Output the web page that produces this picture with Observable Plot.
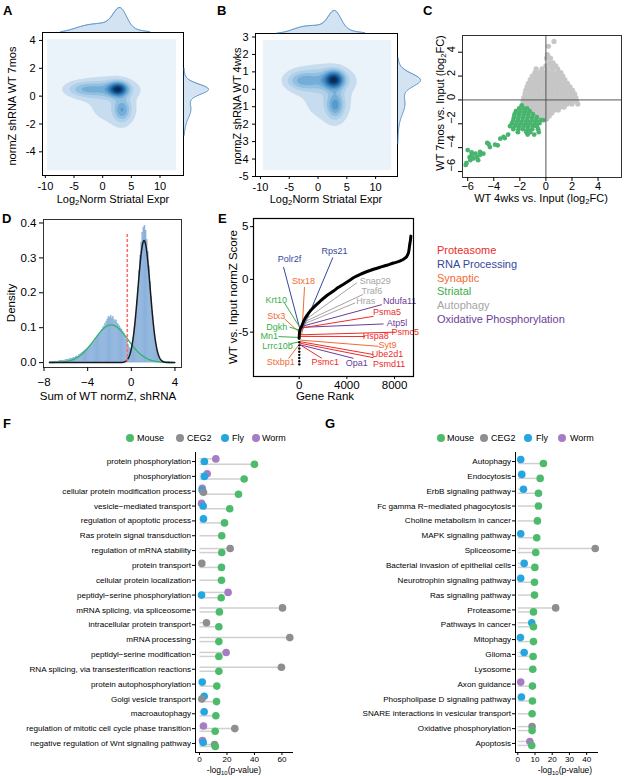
<!DOCTYPE html>
<html>
<head>
<meta charset="utf-8">
<script src="https://cdn.jsdelivr.net/npm/d3@7"></script>
<script src="https://cdn.jsdelivr.net/npm/@observablehq/plot@0.6"></script>
<style>
html,body{margin:0;padding:0;background:#fff;}
#fig{position:relative;width:625px;height:776px;overflow:hidden;font-family:"Liberation Sans",Arial,Helvetica,sans-serif;color:#000;}
#fig svg{overflow:visible;}
.t{position:absolute;white-space:nowrap;line-height:1;}
.t sub{font-size:0.7em;vertical-align:-0.3em;line-height:0;}
</style>
</head>
<body>
<div id="fig"></div>
<script>
// ================= DATA =================
// Panel A – KDE mixture components estimated from the contour picture
const kdeA_cx = [2.7, 0.5, 3.4, 1.5, -3.5];
const kdeA_cy = [0.5, 0.5, -1.0, -0.5, 0.5];
const kdeA_sx = [1.1, 3.0, 1.0, 3.5, 2.0];
const kdeA_sy = [0.33, 0.42, 0.55, 1.3, 0.35];
const kdeA_w  = [0.22, 0.25, 0.16, 0.33, 0.12];
const kdeA_grid = [-9.6, 12.9, -5.36, 4.05];
const kdeA_margX = [-7.3, 8.2];
const kdeA_margY = [-2.8, 2.0];
// Panel B
const kdeB_cx = [2.8, 0.6, 3.0, 1.5, -3.0];
const kdeB_cy = [0.55, 0.55, -0.9, -0.4, 0.5];
const kdeB_sx = [1.1, 3.0, 1.0, 3.5, 1.7];
const kdeB_sy = [0.33, 0.42, 0.5, 1.2, 0.35];
const kdeB_w  = [0.22, 0.25, 0.16, 0.33, 0.11];
const kdeB_grid = [-9.5, 12.8, -4.65, 2.8];
const kdeB_margX = [-7.1, 8.1];
const kdeB_margY = [-3.1, 1.8];

// Panel C – scatter (x: WT 4wks log2FC, y: WT 7mos log2FC)
const cGrayRows = [
  [4.9,[0.62]],[4.5,[0.2]],[3.8,[0.12]],[3.5,[0.05,0.35]],[3.1,[0.28,0.55]],
  [2.85,[0.0,0.4,0.75]],
  [2.6,[-0.75,-0.3,0.1,0.5,0.9]],
  [2.3,[-0.85,-0.5,-0.15,0.2,0.55,0.9,1.15]],
  [2.0,[-1.05,-0.7,-0.35,0.0,0.35,0.7,1.05,1.3]],
  [1.7,[-1.2,-0.85,-0.5,-0.15,0.2,0.55,0.9,1.2,1.45]],
  [1.4,[-1.35,-1.0,-0.65,-0.3,0.05,0.4,0.75,1.1,1.4,1.65]],
  [1.1,[-1.45,-1.1,-0.75,-0.4,-0.05,0.3,0.65,1.0,1.35,1.65,1.85]],
  [0.8,[-1.55,-1.2,-0.85,-0.5,-0.15,0.2,0.55,0.9,1.25,1.6,1.9,2.05]],
  [0.5,[-1.6,-1.25,-0.9,-0.55,-0.2,0.15,0.5,0.85,1.2,1.55,1.9,2.2]],
  [0.2,[-1.7,-1.35,-1.0,-0.65,-0.3,0.05,0.4,0.75,1.1,1.45,1.8,2.1,2.3]],
  [-0.1,[-1.75,-1.4,-1.05,-0.7,-0.35,0.0,0.35,0.7,1.05,1.4,1.75,2.05,2.35]],
  [-0.35,[-1.5,-1.15,-0.8,-0.45,-0.1,0.25,0.6,0.95,1.3,1.65,2.0,2.45]],
  [-0.6,[-1.35,-1.0,-0.65,-0.3,0.05,0.4,0.75,1.1,1.4]],
  [-0.85,[-1.1,-0.75,-0.4,-0.05,0.3,0.65,0.95]],
  [-1.1,[-0.9,-0.55,-0.2,0.15,0.45]],
  [-1.35,[-0.6,-0.3,0.0,0.25]],
  [-1.6,[-0.3,0.05]]
];
const cGreenRows = [
  [-0.45,[-1.85]],
  [-0.7,[-2.05,-1.7,-1.45]],
  [-0.95,[-2.3,-1.95,-1.6,-1.25]],
  [-1.2,[-2.4,-2.05,-1.7,-1.35,-1.0]],
  [-1.45,[-2.45,-2.1,-1.75,-1.4,-1.05,-0.7]],
  [-1.7,[-2.5,-2.15,-1.8,-1.45,-1.1,-0.75,-0.4,-0.2]],
  [-1.95,[-2.6,-2.25,-1.9,-1.55,-1.2,-0.85,-0.5]],
  [-2.2,[-2.75,-2.4,-2.05,-1.7,-1.35,-1.0,-0.7]],
  [-2.45,[-2.5,-2.1,-1.75,-1.4,-1.05,-0.6]],
  [-2.7,[-2.15,-1.5,-1.2,-0.55]],
  [-2.9,[-1.4,-0.9]]
];
const cGreenTail = [
  [-2.9,-2.9],[-3.25,-3.1],[-3.5,-3.25],[-3.15,-3.2],[-3.7,-3.8],[-3.9,-3.75],
  [-4.3,-3.95],[-4.5,-3.6],[-4.4,-3.7],[-4.8,-4.5],[-5.05,-4.35],[-5.7,-4.65],
  [-6.0,-4.2],[-5.3,-4.8],[-6.1,-5.3],[-5.8,-5.05],[-5.55,-4.9],[-5.2,-5.05],
  [-5.7,-4.4],[-5.4,-4.5],[-5.05,-4.6],[-5.85,-4.8],[-6.15,-5.45]
];
const cTicks = [-6, -4, -2, 0, 2, 4];

// Panel D – histogram densities, bins of 0.1 starting at -7.5
const dBinStart = -7.5, dBinWidth = 0.1;
const dHist = [
  0.001,0.001,0.002,0.001,0.002,0.002,0.003,0.002,0.003,0.004,
  0.004,0.005,0.004,0.006,0.006,0.007,0.008,0.007,0.009,0.010,
  0.011,0.012,0.014,0.013,0.016,0.018,0.017,0.021,0.023,0.025,
  0.028,0.030,0.033,0.036,0.038,0.042,0.045,0.047,0.051,0.054,
  0.058,0.061,0.066,0.070,0.074,0.079,0.083,0.089,0.093,0.099,
  0.104,0.110,0.116,0.124,0.131,0.128,0.133,0.126,0.130,0.122,
  0.118,0.121,0.112,0.108,0.104,0.098,0.094,0.087,0.082,0.074,
  0.066,0.058,0.050,0.043,0.038,0.041,0.052,0.070,0.098,0.135,
  0.178,0.215,0.262,0.305,0.343,0.372,0.386,0.392,0.378,0.352,
  0.318,0.276,0.232,0.188,0.148,0.112,0.082,0.058,0.040,0.027,
  0.018,0.012,0.008,0.005,0.004,0.003,0.002,0.002,0.001,0.001,
  0.001,0.000,0.001,0.000,0.000
];
// fitted normal components: [mean, sd, peak density]
const dGreenFit = [-1.85, 1.55, 0.108];
const dBlackFit = [1.17, 0.56, 0.35];
const dCutoff = [-0.37];
const dCutoffTop = 0.37;
const dCurveRange = [-7.5, 4.0];

// Panel E – ranked normZ scores
const eRank  = [0, 30, 100, 224, 364, 600, 923, 1300, 1762, 2300, 2881, 3300, 3720, 4280, 4700, 5119, 5700, 6237, 6800, 7357, 7900, 8476, 8800, 9035, 9200, 9259, 9330, 9371];
const eScore = [-5.6, -5.0, -4.7, -4.4, -4.0, -3.5, -3.0, -2.55, -2.07, -1.55, -1.1, -0.75, -0.45, -0.05, 0.25, 0.48, 0.75, 0.96, 1.15, 1.34, 1.55, 1.75, 1.95, 2.2, 2.7, 3.2, 3.7, 4.1];
const eTailScore = [-5.95, -6.25, -6.55, -6.85, -7.15, -7.45, -7.75, -8.05];
const eGenes = ["Polr2f","Rps21","Stx18","Krt10","Stx3","Dgkh","Mn1","Lrrc10b","Stxbp1","Psmc1","Opa1","Psmd11","Ube2d1","Syt9","Hspa8","Psmc5","Atp5l","Psma5","Ndufa11","Hras","Traf6","Snap29"];
const eGeneClass = ["RNA Processing","RNA Processing","Synaptic","Striatal","Synaptic","Striatal","Striatal","Striatal","Synaptic","Proteasome","Oxidative Phosphorylation","Proteasome","Proteasome","Synaptic","Proteasome","Proteasome","Oxidative Phosphorylation","Proteasome","Oxidative Phosphorylation","Autophagy","Autophagy","Autophagy"];
const eLabelRank  = [-811, 2965, 364, -1930, -1930, -1874, -2518, -1818, -1538, 2182, 4839, 7552, 7413, 7413, 6433, 8895, 8196, 7357, 8420, 5594, 6098, 6377];
const eLabelScore = [1.9, 2.64, -0.16, -1.97, -3.5, -4.52, -5.42, -6.32, -7.87, -7.87, -7.96, -7.99, -7.12, -6.24, -5.34, -5.0, -4.12, -3.12, -2.07, -2.07, -1.11, -0.16];
const eLeadRank   = [-1315, 2825, 448, -1231, -1231, -811, -1734, -755, -895, 1902, 4559, 6237, 6237, 6657, 5538, 8056, 7077, 6237, 6937, 4699, 5343, 4839];
const eLeadScore  = [1.18, 2.07, -0.73, -2.23, -3.73, -4.52, -5.42, -6.1, -7.5, -7.48, -7.48, -7.42, -7.12, -6.34, -5.41, -5.0, -4.22, -3.5, -2.39, -2.23, -1.43, -0.32];
const eGeneRank   = [84, 224, 224, 84, 84, 28, 28, 84, 84, 84, 84, 84, 84, 84, 84, 84, 84, 224, 224, 224, 300, 364];
const eGeneScore  = [-4.8, -4.94, -5.25, -4.6, -5.1, -4.8, -5.5, -5.9, -6.05, -6.2, -6.2, -6.05, -5.9, -5.75, -5.4, -5.25, -4.55, -4.6, -4.45, -4.3, -4.1, -3.95];
const eClasses = ["Proteasome","RNA Processing","Synaptic","Striatal","Autophagy","Oxidative Phosphorylation"];
const eClassColors = ["#ee2b2b","#34489c","#f26b32","#3cae4a","#a5a5a5","#6a3d98"];

// Panels F & G – enrichment -log10(p)
const species = ["Mouse","CEG2","Fly","Worm"];
const speciesColors = ["#4dbb6c","#8e8e92","#26a6e1","#a67dc4"];
const dodgeOrder = ["Worm","Fly","CEG2","Mouse"];
const fTerms = ["protein phosphorylation","phosphorylation","cellular protein modification process","vesicle\u2212mediated transport","regulation of apoptotic process","Ras protein signal transduction","regulation of mRNA stability","protein transport","cellular protein localization","peptidyl\u2212serine phosphorylation","mRNA splicing, via spliceosome","intracellular protein transport","mRNA processing","peptidyl\u2212serine modification","RNA splicing, via transesterification reactions","protein autophosphorylation","Golgi vesicle transport","macroautophagy","regulation of mitotic cell cycle phase transition","negative regulation of Wnt signaling pathway"];
const fMouse = [40, 32.5, 28.4, 22, 18.2, 16.2, 16.2, 16, 16, 15.8, 14.5, 14.1, 14.1, 14.1, 14.1, 12.6, 12.4, 11.9, 11.4, 11.5];
const fCEG2  = [null, null, 2.9, null, null, null, 22.3, 1.7, null, null, 60.4, 5.1, 65.7, null, 59.6, null, 1.7, null, 25.7, 11];
const fFly   = [3.6, 3.6, 2, 2.7, 2.9, null, null, null, null, 1.5, null, null, null, null, null, 2, 3.4, 3.4, null, 2.7];
const fWorm  = [11.9, 5.6, 2, 1.5, null, null, null, null, null, 20.8, null, null, null, 19.4, null, null, null, null, 2.9, 2.2];
const fTicks = [0, 20, 40, 60];
const gTerms = ["Autophagy","Endocytosis","ErbB signaling pathway","Fc gamma R\u2212mediated phagocytosis","Choline metabolism in cancer","MAPK signaling pathway","Spliceosome","Bacterial invasion of epithelial cells","Neurotrophin signaling pathway","Ras signaling pathway","Proteasome","Pathways in cancer","Mitophagy","Glioma","Lysosome","Axon guidance","Phospholipase D signaling pathway","SNARE interactions in vesicular transport","Oxidative phosphorylation","Apoptosis"];
const gMouse = [14.9, 13, 12, 12, 11.4, 11, 10.4, 9.9, 9.7, 9.7, 9.1, 9.1, 9.1, 8.9, 8.7, 8.5, 8.5, 8.3, 8.3, 8.1];
const gCEG2  = [null, null, null, null, null, null, 45, null, null, null, 22, null, null, null, null, null, null, null, 8.3, null];
const gFly   = [1.7, 2.3, 3.3, null, null, 1.7, null, 3.7, 1.7, null, null, 8.1, 1.5, 3.7, null, null, 2.1, null, null, null];
const gWorm  = [null, null, null, null, null, null, null, null, null, null, null, null, null, null, null, 1.7, null, null, null, 7.0];
const gTicks = [0, 10, 20, 30, 40];

// ================= HELPERS =================
const FAM = '"Liberation Sans", Arial, Helvetica, sans-serif';
const fig = document.getElementById("fig");
function put(node, left, top) {
  node.style.position = "absolute"; node.style.left = left + "px"; node.style.top = top + "px";
  fig.appendChild(node); return node;
}
function txt(html, x, y, o = {}) {
  const d = document.createElement("div");
  d.className = "t"; d.innerHTML = html;
  d.style.left = x + "px"; d.style.top = y + "px";
  d.style.fontSize = (o.size || 11) + "px";
  if (o.color) d.style.color = o.color;
  if (o.bold) d.style.fontWeight = "bold";
  const ax = o.anchor === "start" ? "0" : o.anchor === "end" ? "-100%" : "-50%";
  d.style.transform = `translate(${ax},-50%)` + (o.rotate ? ` rotate(${o.rotate}deg)` : "");
  fig.appendChild(d); return d;
}
const hy = d => (d < 0 ? "-" + (-d) : String(d));
const baseStyle = size => ({background: "none", fontFamily: FAM, fontSize: size + "px", color: "#000", overflow: "visible"});

function mixture(cx, cy, sx, sy, w) {
  const f2 = (x, y) => {
    let s = 0;
    for (let i = 0; i < w.length; i++) {
      const a = (x - cx[i]) / sx[i], b = (y - cy[i]) / sy[i];
      s += w[i] * Math.exp(-0.5 * (a * a + b * b)) / (2 * Math.PI * sx[i] * sy[i]);
    }
    return s;
  };
  const m = (v, c, s) => { let t = 0; for (let i = 0; i < w.length; i++) { const a = (v - c[i]) / s[i]; t += w[i] * Math.exp(-0.5 * a * a) / (Math.sqrt(2 * Math.PI) * s[i]); } return t; };
  return {f2, fx: x => m(x, cx, sx), fy: y => m(y, cy, sy)};
}

const kdeLevels = [0.055, 0.14, 0.23, 0.32, 0.41, 0.5, 0.6, 0.7, 0.8, 0.9];
const kdeInterp = d3.interpolateRgbBasis(["#d6e6f4","#a9cce6","#6fadd8","#3a86c2","#1a5fa0","#0b3b6e","#03152c"]);
const kdeBg = "#eaf2fa";
const margStroke = "#3a7fc1";

function jointPanel(K, L) {
  const {f2, fx, fy} = mixture(K.cx, K.cy, K.sx, K.sy, K.w);
  const g = K.grid;
  let max = 0;
  for (let x = g[0]; x <= g[1]; x += 0.1) for (let y = g[2]; y <= g[3]; y += 0.05) max = Math.max(max, f2(x, y));
  const main = Plot.plot({
    width: L.width, height: L.height,
    marginLeft: L.ml, marginRight: L.mr, marginTop: L.mt, marginBottom: L.mb,
    style: baseStyle(11),
    x: {domain: L.xd, label: null},
    y: {domain: L.yd, label: null},
    color: {type: "linear", domain: [0, max], interpolate: kdeInterp},
    marks: [
      Plot.rect([g], {x1: d => d[0], x2: d => d[1], y1: d => d[2], y2: d => d[3], fill: kdeBg}),
      Plot.contour({x1: g[0], x2: g[1], y1: g[2], y2: g[3], fill: f2, thresholds: kdeLevels.map(t => t * max), stroke: "none"}),
      Plot.frame({stroke: "#000", strokeWidth: 1}),
      Plot.axisX(L.xt, {tickSize: 3, tickPadding: 4, tickFormat: hy}),
      Plot.axisY(L.yt, {tickSize: 3, tickPadding: 4, tickFormat: hy})
    ]
  });
  put(main, L.left, L.top);
  const tp = d3.range(K.mx[0], K.mx[1] + 1e-9, 0.05).map(x => ({x, d: fx(x)}));
  const tMax = d3.max(tp, d => d.d);
  const top = Plot.plot({
    width: L.width, height: L.mt, marginLeft: L.ml, marginRight: L.mr, marginTop: 0, marginBottom: 0,
    style: baseStyle(10),
    x: {domain: L.xd, axis: null}, y: {domain: [0, tMax * L.mt / L.topPeak], axis: null},
    marks: [
      Plot.areaY(tp, {x: "x", y: "d", fill: margStroke, fillOpacity: 0.22}),
      Plot.lineY(tp, {x: "x", y: "d", stroke: margStroke, strokeWidth: 1})
    ]
  });
  put(top, L.left, L.top);
  const rp = d3.range(K.my[0], K.my[1] + 1e-9, 0.02).map(y => ({y, d: fy(y)}));
  const rMax = d3.max(rp, d => d.d);
  const rw = 30;
  const right = Plot.plot({
    width: rw, height: L.height, marginLeft: 0, marginRight: 0, marginTop: L.mt, marginBottom: L.mb,
    style: baseStyle(10),
    x: {domain: [0, rMax * rw / L.rightPeak], axis: null}, y: {domain: L.yd, axis: null},
    marks: [
      Plot.areaX(rp, {y: "y", x: "d", fill: margStroke, fillOpacity: 0.22}),
      Plot.lineX(rp, {y: "y", x: "d", stroke: margStroke, strokeWidth: 1})
    ]
  });
  put(right, L.left + L.width - L.mr, L.top);
}

// ================= PANEL A & B =================
jointPanel(
  {cx: kdeA_cx, cy: kdeA_cy, sx: kdeA_sx, sy: kdeA_sy, w: kdeA_w, grid: kdeA_grid, mx: kdeA_margX, my: kdeA_margY},
  {left: 0, top: 0, width: 215, height: 205, ml: 42, mr: 32, mt: 32, mb: 30,
   xd: [-10.5, 14.1], yd: [-5.7, 4.57], xt: [-10, -5, 0, 5, 10], yt: [-4, -2, 0, 2, 4], topPeak: 25, rightPeak: 25}
);
jointPanel(
  {cx: kdeB_cx, cy: kdeB_cy, sx: kdeB_sx, sy: kdeB_sy, w: kdeB_w, grid: kdeB_grid, mx: kdeB_margX, my: kdeB_margY},
  {left: 200, top: 0, width: 229, height: 205, ml: 55, mr: 32, mt: 33, mb: 29,
   xd: [-10.86, 13.8], yd: [-5.0, 3.2], xt: [-10, -5, 0, 5, 10], yt: [-5, -4, -3, -2, -1, 0, 1, 2, 3], topPeak: 23, rightPeak: 23}
);
txt("Log<sub>2</sub>Norm Striatal Expr", 113, 199, {size: 11});
txt("normZ shRNA WT 7mos", 12, 106, {size: 11, rotate: -90});
txt("Log<sub>2</sub>Norm Striatal Expr", 326, 199, {size: 11});
txt("normZ shRNA WT 4wks", 237, 106, {size: 11, rotate: -90});

// ================= PANEL C =================
{
  const gray = cGrayRows.flatMap(([y, xs]) => xs.map(x => ({x, y})));
  const green = cGreenRows.flatMap(([y, xs]) => xs.map(x => ({x, y}))).concat(cGreenTail.map(([x, y]) => ({x, y})));
  const c = Plot.plot({
    width: 215, height: 210, marginLeft: 52, marginRight: 4, marginTop: 35, marginBottom: 33,
    style: baseStyle(11),
    x: {domain: [-6.4, 5.8], label: null},
    y: {domain: [-6.5, 5.4], label: null},
    marks: [
      Plot.dot(gray, {x: "x", y: "y", r: 2.6, fill: "#c6c6c6"}),
      Plot.dot(green, {x: "x", y: "y", r: 2.4, fill: "#48b46e"}),
      Plot.ruleX([0], {stroke: "#555", strokeWidth: 1}),
      Plot.ruleY([0], {stroke: "#555", strokeWidth: 1}),
      Plot.frame({stroke: "#333", strokeWidth: 1}),
      Plot.axisX(cTicks, {tickSize: 4, tickPadding: 1}),
      Plot.axisY(cTicks, {tickSize: 4, tickFormat: () => ""}),
      Plot.text(cTicks, {y: d => d, text: d => (d < 0 ? "\u2212" + (-d) : String(d)), frameAnchor: "left", dx: -11, rotate: -90, fontSize: 11})
    ]
  });
  put(c, 410, 0);
  txt("WT 4wks vs. Input (log<sub>2</sub>FC)", 541, 198, {size: 11});
  txt("WT 7mos vs. Input (log<sub>2</sub>FC)", 440, 103, {size: 11, rotate: -90});
}

// ================= PANEL D =================
{
  const bins = dHist.map((h, i) => ({x1: dBinStart + i * dBinWidth, x2: dBinStart + (i + 1) * dBinWidth, h}));
  const norm = ([m, s, p]) => x => p * Math.exp(-0.5 * ((x - m) / s) ** 2);
  const xs = d3.range(dCurveRange[0], dCurveRange[1] + 1e-9, 0.04);
  const gC = xs.map(x => ({x, y: norm(dGreenFit)(x)}));
  const bC = xs.map(x => ({x, y: norm(dBlackFit)(x)}));
  const d = Plot.plot({
    width: 200, height: 200, marginLeft: 43, marginRight: 19, marginTop: 19, marginBottom: 33,
    style: baseStyle(11.5),
    x: {domain: [-8.05, 4.6], label: null},
    y: {domain: [-0.014, 0.41], label: null},
    marks: [
      Plot.rectY(bins, {x1: "x1", x2: "x2", y: "h", fill: "#8cb2dc", stroke: "#8cb2dc", strokeWidth: 0.4, inset: 0}),
      Plot.line(gC, {x: "x", y: "y", stroke: "#2db56a", strokeWidth: 1.3}),
      Plot.line(bC, {x: "x", y: "y", stroke: "#1a1a1a", strokeWidth: 1.5}),
      Plot.ruleX(dCutoff, {y1: 0, y2: dCutoffTop, stroke: "#ff6b6b", strokeWidth: 1.6, strokeDasharray: "3,2"}),
      Plot.frame({stroke: "#333", strokeWidth: 1}),
      Plot.axisX([-8, -4, 0, 4], {tickSize: 4, tickPadding: 6}),
      Plot.axisY([0, 0.1, 0.2, 0.3, 0.4], {tickSize: 4, tickPadding: 3, tickFormat: d3.format(".1f")})
    ]
  });
  put(d, 0, 200);
  txt("Density", 12, 303, {size: 11.5, rotate: -90});
  txt("Sum of WT normZ, shRNA", 108, 397, {size: 11.5});
}

// ================= PANEL E =================
{
  const curve = eRank.map((r, i) => ({r, s: eScore[i]}));
  const tail = eTailScore.map(s => ({r: 10, s}));
  const lab = eGenes.map((g, i) => ({g, c: eGeneClass[i], tx: eLabelRank[i], ty: eLabelScore[i], lx: eLeadRank[i], ly: eLeadScore[i], px: eGeneRank[i], py: eGeneScore[i]}));
  const e = Plot.plot({
    width: 225, height: 200, marginLeft: 53, marginRight: 12, marginTop: 18, marginBottom: 24,
    style: baseStyle(11.5),
    x: {domain: [-3830, 9590], label: null},
    y: {domain: [-9.2, 5.77], label: null},
    color: {domain: eClasses, range: eClassColors},
    marks: [
      Plot.link(lab, {x1: "lx", y1: "ly", x2: "px", y2: "py", stroke: "c", strokeWidth: 1}),
      Plot.dot(tail, {x: "r", y: "s", r: 1.2, fill: "#000"}),
      Plot.line(curve, {x: "r", y: "s", stroke: "#000", strokeWidth: 3, curve: "monotone-x"}),
      Plot.text(lab, {x: "tx", y: "ty", text: "g", fill: "c", fontSize: 9}),
      Plot.frame({stroke: "#000", strokeWidth: 1.2}),
      Plot.axisX([0, 4000, 8000], {tickSize: 3, tickPadding: 1, tickFormat: d => String(d)}),
      Plot.axisY([-5, 0, 5], {tickSize: 3, tickPadding: 2, tickFormat: hy})
    ]
  });
  put(e, 200, 200);
  txt("WT vs. Input normZ Score", 234, 297, {size: 11.5, rotate: -90});
  txt("Gene Rank", 325, 397, {size: 11.5});
  eClasses.forEach((c, i) => txt(c, 437, 250 + i * 13.8, {size: 11, anchor: "start", color: eClassColors[i]}));
}

// ================= PANELS F & G =================
function lollipop(terms, series, L) {
  const recs = [];
  terms.forEach((t, i) => {
    const present = dodgeOrder.filter(s => series[s][i] != null);
    const n = present.length;
    present.forEach((s, j) => recs.push({row: i, s, v: series[s][i], yy: i + (j - (n - 1) / 2) * 0.54 / n}));
  });
  const yd = [terms.length - 0.39, -0.61];
  const p = Plot.plot({
    width: L.width, height: 336, marginLeft: 195, marginRight: L.mr, marginTop: 12, marginBottom: 24,
    style: baseStyle(8.1),
    x: {domain: L.xd, label: null},
    y: {domain: yd, label: null},
    color: {domain: species, range: speciesColors},
    marks: [
      Plot.link(recs, {x1: d => 0, x2: "v", y1: "yy", y2: "yy", stroke: "#d0d0d0", strokeWidth: 1.5}),
      Plot.dot(recs, {x: "v", y: "yy", r: 3.8, fill: "s"}),
      Plot.ruleX([L.xd[0]], {stroke: "#000", strokeWidth: 1}),
      Plot.ruleY([yd[0]], {stroke: "#000", strokeWidth: 1}),
      Plot.axisX(L.ticks, {tickSize: 3, tickPadding: 0.5}),
      Plot.axisY(d3.range(terms.length), {tickSize: 3, tickPadding: 1.5, tickFormat: i => terms[i]})
    ]
  });
  put(p, L.left, 440);
}
lollipop(fTerms, {Mouse: fMouse, CEG2: fCEG2, Fly: fFly, Worm: fWorm}, {left: 0, width: 310, mr: 17, xd: [-2.9, 68.4], ticks: fTicks});
lollipop(gTerms, {Mouse: gMouse, CEG2: gCEG2, Fly: gFly, Worm: gWorm}, {left: 320, width: 290, mr: 12, xd: [-1.34, 46.9], ticks: gTicks});
txt("-log<sub>10</sub>(p-value)", 234, 770, {size: 8.5});
txt("-log<sub>10</sub>(p-value)", 565, 770, {size: 8.5});

function legendRow(dots, texts) {
  species.forEach((s, i) => {
    const el = document.createElement("div");
    el.style.cssText = `position:absolute;left:${dots[i] - 4}px;top:${438 - 4}px;width:8px;height:8px;border-radius:50%;background:${speciesColors[i]};`;
    fig.appendChild(el);
    txt(s, texts[i], 438, {size: 9, anchor: "start"});
  });
}
legendRow([130, 180, 225, 256], [137, 187, 232, 262]);
legendRow([441, 484, 528, 562], [447, 491, 536, 570]);

// ================= PANEL LETTERS =================
[["A", 3, 10], ["B", 217, 10], ["C", 423, 10], ["D", 2, 218], ["E", 218, 218], ["F", 3, 423], ["G", 325, 423]]
  .forEach(([l, x, y]) => txt(l, x, y, {size: 13, bold: true, anchor: "start"}));
</script>
</body>
</html>
